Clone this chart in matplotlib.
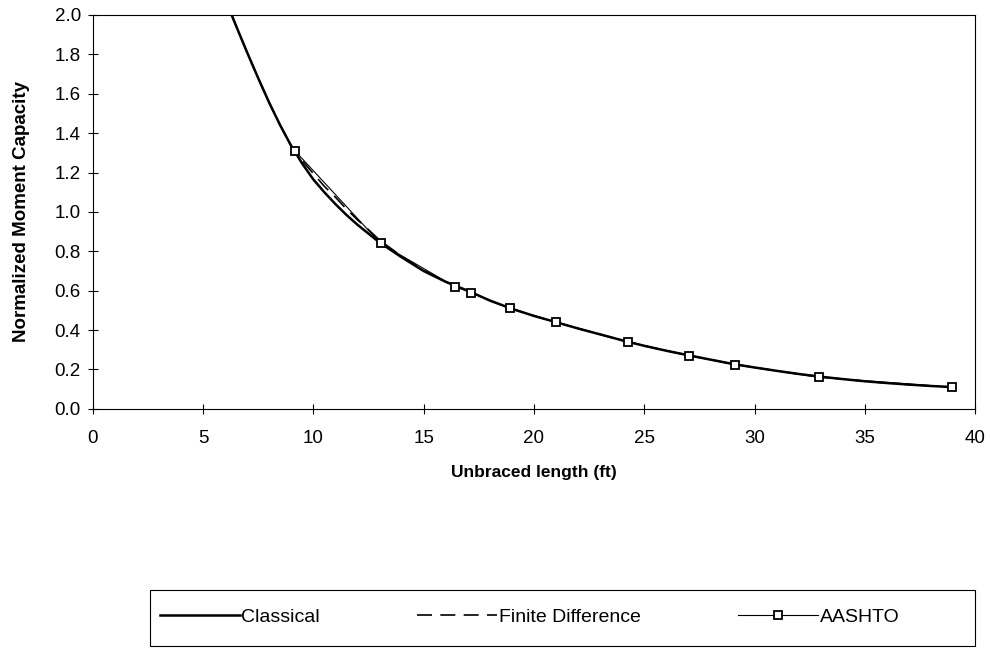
import matplotlib.pyplot as plt
import matplotlib
from matplotlib.patches import Rectangle

matplotlib.rc('font', **{'family': 'sans-serif', 'sans-serif': ['Liberation Sans', 'DejaVu Sans']})

# values
classical_x = [6.3, 6.5, 7, 7.5, 8, 8.5, 9, 9.17, 9.5, 10, 10.5, 11, 11.5, 12, 12.5, 13,
               14, 15, 16, 17, 18, 19, 20, 21, 22, 23, 24, 25, 26, 27, 28, 29, 30,
               31, 32, 33, 34, 35, 36, 37, 38, 39]
classical_y = [2.00, 1.945, 1.81, 1.68, 1.555, 1.44, 1.335, 1.305, 1.245, 1.165, 1.10,
               1.04, 0.985, 0.935, 0.89, 0.845, 0.77, 0.70, 0.645, 0.60, 0.55, 0.508,
               0.472, 0.44, 0.408, 0.378, 0.348, 0.32, 0.295, 0.272, 0.25, 0.228, 0.21,
               0.193, 0.177, 0.163, 0.151, 0.14, 0.131, 0.123, 0.116, 0.11]

fd_x = classical_x
fd_y = [2.00, 1.945, 1.81, 1.68, 1.555, 1.44, 1.335, 1.308, 1.26, 1.195, 1.13,
        1.075, 1.015, 0.96, 0.91, 0.857, 0.775, 0.703, 0.646, 0.60, 0.55, 0.508,
        0.472, 0.44, 0.408, 0.378, 0.348, 0.32, 0.295, 0.272, 0.25, 0.228, 0.21,
        0.193, 0.177, 0.163, 0.151, 0.14, 0.131, 0.123, 0.116, 0.11]

aashto_x = [9.17, 13.05, 16.42, 17.17, 18.9, 21.0, 24.27, 27.03, 29.1, 32.92, 38.97]
aashto_y = [1.31, 0.84, 0.62, 0.59, 0.51, 0.44, 0.34, 0.27, 0.225, 0.16, 0.11]

xticks = [0, 5, 10, 15, 20, 25, 30, 35, 40]
yticks = [0.0, 0.2, 0.4, 0.6, 0.8, 1.0, 1.2, 1.4, 1.6, 1.8, 2.0]

fig = plt.figure(figsize=(9.9, 6.51), dpi=100)
ax = fig.add_axes([0.0936, 0.372, 0.8914, 0.605])

ax.plot(classical_x, classical_y, color='black', lw=1.8, label='Classical')
ax.plot(fd_x, fd_y, color='black', lw=1.2, dashes=(9, 5), label='Finite Difference')
ax.plot(aashto_x, aashto_y, color='black', lw=0.8, marker='s', markersize=6,
        markerfacecolor='white', markeredgecolor='black', markeredgewidth=1.3,
        label='AASHTO')

ax.set_xlim(0, 40)
ax.set_ylim(0, 2.0)
ax.set_xticks(xticks)
ax.set_yticks(yticks)
ax.set_yticklabels(['%.1f' % v for v in yticks])
ax.tick_params(direction='inout', length=7, width=0.8, labelsize=13.5)
ax.tick_params(axis='x', pad=12)
ax.tick_params(axis='y', pad=5)
for s in ax.spines.values():
    s.set_linewidth(0.8)

ax.set_xlabel('Unbraced length (ft)', fontsize=12.5, fontweight='bold', labelpad=13)
ax.set_ylabel('Normalized Moment Capacity', fontsize=13.5, fontweight='bold', labelpad=18)

leg = fig.legend(loc='center left', ncol=3, bbox_to_anchor=(152 / 990, 1 - 617 / 651),
                 frameon=False, fontsize=14, handlelength=4.1, handletextpad=0.1,
                 columnspacing=5, borderaxespad=0, numpoints=1)
fig.patches.append(Rectangle((150 / 990, 1 - 646 / 651), 825 / 990, 56 / 651,
                             transform=fig.transFigure, fill=False, lw=0.8,
                             edgecolor='black'))

plt.savefig('out.png', dpi=100)
